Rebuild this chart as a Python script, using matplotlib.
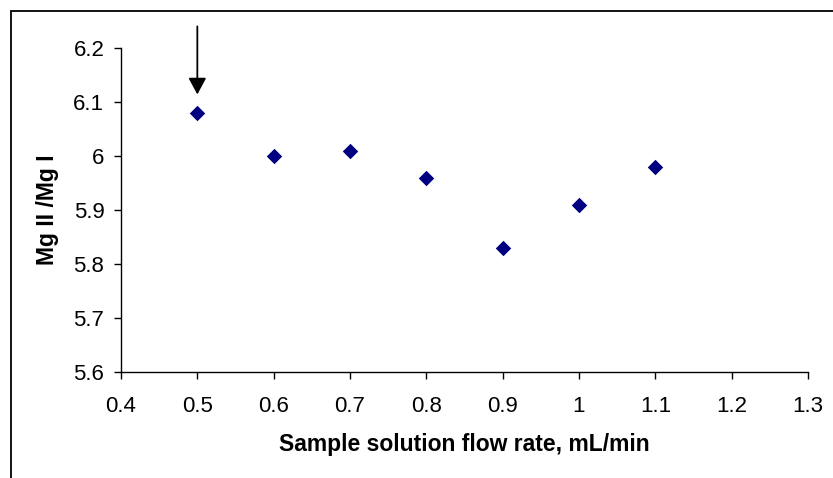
import matplotlib
matplotlib.use("Agg")
import matplotlib.pyplot as plt
from matplotlib.patches import Rectangle

flow_rate = [0.5, 0.6, 0.7, 0.8, 0.9, 1.0, 1.1]
ratio = [6.08, 6.00, 6.01, 5.96, 5.83, 5.91, 5.98]
x_ticks = [0.4, 0.5, 0.6, 0.7, 0.8, 0.9, 1.0, 1.1, 1.2, 1.3]
x_tick_labels = ["0.4", "0.5", "0.6", "0.7", "0.8", "0.9", "1", "1.1", "1.2", "1.3"]
y_ticks = [5.6, 5.7, 5.8, 5.9, 6.0, 6.1, 6.2]
y_tick_labels = ["5.6", "5.7", "5.8", "5.9", "6", "6.1", "6.2"]

plt.rcParams['font.family'] = ['Liberation Sans', 'DejaVu Sans']

W, H = 833, 478
fig = plt.figure(figsize=(W / 100, H / 100), dpi=100)
fig.patch.set_facecolor('white')

# outer chart-area frame (extends beyond right/bottom edges)
fig.patches.append(Rectangle((10.5 / W, -0.1), 1.2, 1.1 - 11.5 / H,
                             transform=fig.transFigure, fill=False,
                             edgecolor='black', linewidth=1.3))

left, right, top, bottom = 121, 808, 48, 372
ax = fig.add_axes([left / W, 1 - bottom / H, (right - left) / W, (bottom - top) / H])

ax.scatter(flow_rate, ratio, marker='D', s=62, color='#000080', zorder=3, linewidths=0)

ax.set_xlim(0.4, 1.3)
ax.set_ylim(5.6, 6.2)
ax.set_xticks(x_ticks)
ax.set_xticklabels(x_tick_labels)
ax.set_yticks(y_ticks)
ax.set_yticklabels(y_tick_labels)

for s in ['top', 'right']:
    ax.spines[s].set_visible(False)
for s in ['left', 'bottom']:
    ax.spines[s].set_linewidth(1.0)
ax.tick_params(direction='out', length=5, width=1.0, labelsize=16)
ax.tick_params(axis='x', pad=12)
ax.tick_params(axis='y', pad=7)

ax.set_xlabel('Sample solution flow rate, mL/min', fontsize=16.5, fontweight='bold', labelpad=11.5)
ax.set_ylabel('Mg II /Mg I', fontsize=16.5, fontweight='bold', labelpad=10)

ax.annotate('', xy=(flow_rate[0], 6.114), xytext=(flow_rate[0], 6.24),
            arrowprops=dict(arrowstyle='-|>,head_length=0.5,head_width=0.27',
                            color='black', lw=1.3,
                            mutation_scale=20, shrinkA=0, shrinkB=0),
            annotation_clip=False)

fig.savefig('out.png', dpi=100, facecolor='white')
